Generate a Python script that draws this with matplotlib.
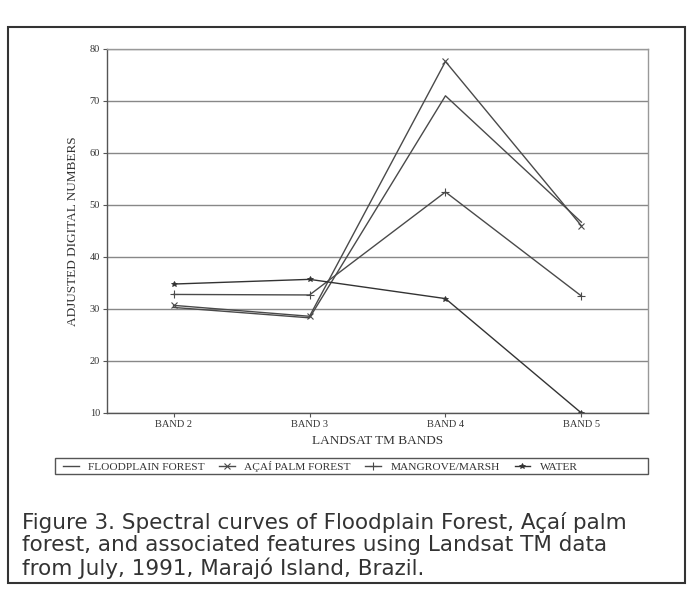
import matplotlib
matplotlib.use("Agg")
import matplotlib.pyplot as plt
from matplotlib.patches import Rectangle

bands = ["BAND 2", "BAND 3", "BAND 4", "BAND 5"]
floodplain = [30.3, 28.3, 71.0, 46.7]
acai = [30.7, 28.6, 77.6, 46.0]
mangrove = [32.8, 32.7, 52.5, 32.5]
water = [34.8, 35.7, 32.0, 10.0]
series_names = ["FLOODPLAIN FOREST", "AÇAÍ PALM FOREST", "MANGROVE/MARSH", "WATER"]
yticks = [10, 20, 30, 40, 50, 60, 70, 80]

serif = ["Liberation Serif", "DejaVu Serif"]

fig = plt.figure(figsize=(6.9, 6.03), dpi=100)
ax = fig.add_axes([107/690, 1-413/603, (648-107)/690, (413-49)/603])

x = list(range(len(bands)))
lc = "#4a4a4a"
l1, = ax.plot(x, floodplain, color=lc, lw=1.0)
l2, = ax.plot(x, acai, color=lc, lw=1.0, marker="x", ms=5, mew=0.8)
l3, = ax.plot(x, mangrove, color=lc, lw=1.0, marker="+", ms=6, mew=0.8)
l4, = ax.plot(x, water, color="#333333", lw=1.0, marker="*", ms=4, mew=0.6)

ax.set_xlim(-0.49, 3.49)
ax.set_ylim(10, 80)
ax.set_yticks(yticks)
ax.set_yticklabels([str(v) for v in yticks], fontfamily=serif, fontsize=7.5, color="#333")
ax.set_xticks(x)
ax.set_xticklabels(bands, fontfamily=serif, fontsize=7.5, color="#333")
ax.tick_params(axis="both", direction="out", length=3, width=0.8, colors="#555", labelcolor="#333", pad=2)
ax.yaxis.grid(True, color="#888888", lw=1.0)
ax.set_axisbelow(True)
for s in ["left", "bottom"]:
    ax.spines[s].set_color("#555")
    ax.spines[s].set_linewidth(1.0)
for s in ["top", "right"]:
    ax.spines[s].set_color("#999")
    ax.spines[s].set_linewidth(1.0)

ax.set_xlabel("LANDSAT TM BANDS", fontfamily=serif, fontsize=9.5, color="#333", labelpad=4)
ax.set_ylabel("ADJUSTED DIGITAL NUMBERS", fontfamily=serif, fontsize=9.5, color="#333", labelpad=8)

leg = fig.legend([l1, l2, l3, l4], series_names, loc="center left",
                 bbox_to_anchor=(58/690, 1-466/603), ncol=4, frameon=False,
                 prop={"family": serif, "size": 8.2}, handlelength=1.4,
                 handletextpad=0.8, columnspacing=1.3, borderaxespad=0)
for t in leg.get_texts():
    t.set_color("#333")

fig.patches.append(Rectangle((55/690, 1-474/603), (648-55)/690, 16/603,
                             transform=fig.transFigure, fill=False,
                             edgecolor="#555", lw=1.0))
fig.patches.append(Rectangle((8/690, 1-583/603), (685-8)/690, (583-27)/603,
                             transform=fig.transFigure, fill=False,
                             edgecolor="#333", lw=1.5))

caption = ("Figure 3. Spectral curves of Floodplain Forest, Açaí palm\n"
           "forest, and associated features using Landsat TM data\n"
           "from July, 1991, Marajó Island, Brazil.")
fig.text(22/690, 1-512/603, caption, ha="left", va="top",
         fontfamily=["DejaVu Sans"], fontsize=15.5,
         color="#333", linespacing=1.12)

fig.savefig("out.png", dpi=100)
